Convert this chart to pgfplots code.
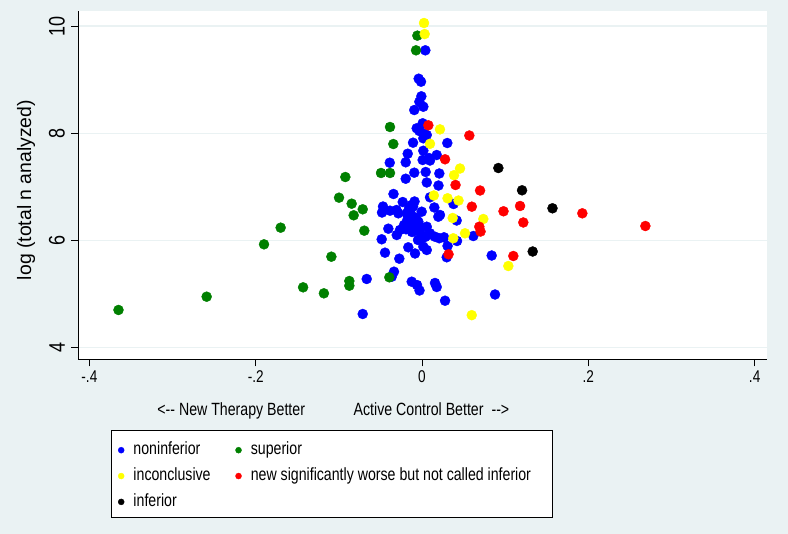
\documentclass[border=0pt]{standalone}
\usepackage{fontspec}
\setmainfont{Liberation Sans}
\newfontfamily\cond{Liberation Sans}[FakeStretch=0.8]
\usepackage{pgfplots}
\pgfplotsset{compat=1.18}
\definecolor{stbg}{RGB}{234,242,243}
\definecolor{sblue}{RGB}{0,0,255}
\definecolor{sgreen}{RGB}{0,128,0}
\definecolor{syellow}{RGB}{255,255,0}
\definecolor{sred}{RGB}{255,0,0}
\definecolor{sblack}{RGB}{0,0,0}
\begin{document}
\begin{tikzpicture}[x=1pt,y=1pt]
\useasboundingbox (0,0) rectangle (788,534);
\fill[stbg] (0,0) rectangle (788,534);
\filldraw[fill=white, draw=black, line width=1pt] (111.7,16.7) rectangle (552.7,103.3);
\begin{axis}[
  at={(78pt,174.7pt)}, anchor=south west,
  scale only axis, width=688.7pt, height=348.6pt,
  xmin=-0.4137, xmax=0.4145, ymin=3.776, ymax=10.286,
  axis background/.style={fill=white},
  axis x line*=bottom, axis y line*=left,
  axis line style={black, line width=0.8pt, -},
  tick align=outside, major tick length=7pt,
  tick style={black, line width=0.8pt},
  xtick={-0.4,-0.2,0,0.2,0.4}, xticklabels={-.4,-.2,0,.2,.4},
  ytick={4,6,8,10}, yticklabels={4,6,8,10},
  minor tick num=0,
  ymajorgrids, grid style={stbg, line width=1.2pt},
  /pgf/number format/assume math mode=true,
  xticklabel style={font=\cond\fontsize{17}{20}\selectfont, anchor=north, inner sep=0pt, text height=12.2pt, text depth=0pt},
  xticklabel shift=3.5pt,
  yticklabel style={font=\cond\fontsize{22.5}{24}\selectfont, rotate=90, anchor=south, inner sep=0pt},
  yticklabel shift=6pt,
  ylabel={log (total n analyzed)},
  every axis y label/.style={at={(axis description cs:-0.0755,0.4857)}, rotate=90, anchor=center, font=\fontsize{19.4}{22}\selectfont},
  xlabel={<-{}- New Therapy Better\hspace{48.7pt}Active Control Better\hspace{8pt}-{}->},
  every axis x label/.style={at={(axis description cs:0.1151,-0.1598)}, anchor=base west, inner sep=0pt, font=\cond\fontsize{17.7}{20}\selectfont},
  legend columns=2,
  legend cell align=left,
  legend image code/.code={\draw[#1, mark size=3pt] plot coordinates {(0pt,0pt)};},
  legend style={at={(axis description cs:0.05808,-0.2358)}, anchor=north west, draw=none, fill=none, inner sep=0pt,
    font=\cond\fontsize{17.7}{20}\selectfont, row sep=8.85pt, column sep=0pt,
    nodes={inner sep=0pt, text height=13pt, text depth=4pt},
    /tikz/every odd column/.append style={column sep=9.3pt},
    /tikz/every even column/.append style={column sep=24.9pt}},
  clip=false,
]
\addplot[only marks, mark=*, mark size=5pt, color=sblue] coordinates {
(0.0040,9.546) (-0.0040,9.016) (-0.0012,8.960) (-0.0008,8.687) (-0.0032,8.586)
(-0.0093,8.431) (0.0016,8.493) (0.0008,8.183) (-0.0064,8.090) (-0.0032,8.039)
(0.0016,7.996) (0.0057,7.965) (0.0016,7.903) (-0.0108,7.821) (0.0304,7.815)
(0.0016,7.671) (-0.0172,7.615) (0.0177,7.591) (0.0084,7.535) (0.0008,7.498)
(0.0096,7.488) (-0.0196,7.455) (-0.0388,7.447) (-0.0093,7.261) (0.0044,7.274)
(0.0208,7.246) (-0.0196,7.148) (0.0057,7.078) (0.0198,7.021) (-0.0343,6.863)
(0.0096,6.801) (-0.0232,6.713) (-0.0090,6.723) (-0.0108,6.626) (-0.0144,6.532)
(-0.0004,6.532) (-0.0469,6.629) (-0.0481,6.517) (-0.0385,6.551) (-0.0307,6.564)
(0.0148,6.611) (0.0216,6.471) (0.0379,6.676) (0.0196,6.439) (0.0417,6.368)
(-0.0184,6.502) (-0.0285,6.502) (-0.0105,6.439) (-0.0044,6.345) (-0.0024,6.252)
(-0.0177,6.377) (-0.0216,6.284) (-0.0192,6.204) (-0.0265,6.191) (-0.0304,6.097)
(-0.0405,6.215) (0.0057,6.252) (0.0096,6.129) (0.0036,6.060) (0.0156,6.065)
(0.0208,6.036) (0.0265,6.054) (0.0421,5.985) (0.0617,6.078) (-0.0485,6.017)
(-0.0004,6.036) (0.0016,5.879) (0.0057,5.817) (-0.0165,5.867) (-0.0084,5.752)
(0.0307,5.892) (0.0297,5.681) (-0.0445,5.767) (-0.0273,5.655) (-0.0337,5.412)
(-0.0364,5.318) (-0.0665,5.276) (-0.0124,5.225) (-0.0060,5.163) (-0.0030,5.061)
(0.0156,5.201) (0.0177,5.126) (0.0277,4.870) (0.0838,5.714) (0.0878,4.986)
(-0.0713,4.622) (-0.0096,6.284) (-0.0144,6.345) (-0.0024,6.153) (-0.0156,6.601)
(-0.0072,6.415) (-0.0120,6.153) (-0.0048,6.004) (0.0076,6.097) (-0.0124,6.657)
};
\addlegendentry{noninferior}
\addplot[only marks, mark=*, mark size=5pt, color=sgreen] coordinates {
(-0.365,4.697) (-0.259,4.945) (-0.190,5.923) (-0.170,6.234) (-0.143,5.120)
(-0.118,5.008) (-0.109,5.692) (-0.0998,6.794) (-0.0922,7.180) (-0.0874,5.238)
(-0.0874,5.150) (-0.0846,6.682) (-0.0822,6.465) (-0.0713,6.577) (-0.0694,6.178)
(-0.0493,7.255) (-0.0385,7.255) (-0.0385,8.114) (-0.0345,7.796) (-0.0393,5.307)
(-0.0056,9.820) (-0.0072,9.546)
};
\addlegendentry{superior}
\addplot[only marks, mark=*, mark size=5pt, color=syellow] coordinates {
(0.0024,10.056) (0.0032,9.850) (0.0216,8.070) (0.0096,7.800) (0.0457,7.339)
(0.0385,7.214) (0.0142,6.835) (0.0307,6.783) (0.0439,6.741) (0.0369,6.415)
(0.0737,6.396) (0.0517,6.129) (0.0376,6.036) (0.1038,5.518) (0.0598,4.600)
};
\addlegendentry{inconclusive}
\addplot[only marks, mark=*, mark size=5pt, color=sred] coordinates {
(0.0076,8.146) (0.0569,7.955) (0.0277,7.511) (0.0403,7.031) (0.0698,6.928)
(0.0599,6.626) (0.0980,6.540) (0.1179,6.639) (0.1928,6.502) (0.2686,6.265)
(0.1218,6.331) (0.0689,6.252) (0.0704,6.162) (0.0319,5.737) (0.1098,5.705)
};
\addlegendentry{new significantly worse but not called inferior}
\addplot[only marks, mark=*, mark size=5pt, color=sblack] coordinates {
(0.0918,7.348) (0.1203,6.932) (0.1569,6.596) (0.1331,5.789)
};
\addlegendentry{inferior}
\end{axis}
\end{tikzpicture}
\end{document}
